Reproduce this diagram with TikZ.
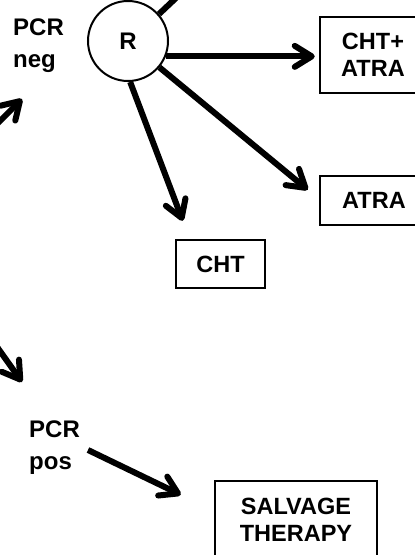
\documentclass[tikz,border=0pt]{standalone}
\usepackage{fontspec}
\setmainfont{Liberation Sans}
\usetikzlibrary{arrows.meta}
\begin{document}
\begin{tikzpicture}[x=1pt,y=-1pt,
  lbl/.style={font=\bfseries\fontsize{24}{32}\selectfont,align=left,inner sep=0pt},
  boxnode/.style={draw,line width=2.5pt,font=\bfseries\fontsize{23.5}{27}\selectfont,align=center,inner sep=0pt},
  conn/.style={line width=6pt,-{Straight Barb[length=17pt,width=21pt,round]}},
  plain/.style={line width=6pt}]
\useasboundingbox (0,0) rectangle (415,555);
\clip (0,0) rectangle (415,555);
\node[draw,circle,line width=2pt,minimum size=80pt,inner sep=0pt,font=\bfseries\fontsize{24}{28}\selectfont] (R) at (128,41) {R};
\node[lbl,anchor=west] (pneg) at (13,46) {PCR\\neg};
\node[lbl,anchor=west] (ppos) at (29,448) {PCR\\pos};
\node[boxnode,minimum width=106pt,minimum height=76pt] (ca) at (373,55) {CHT+\\ATRA};
\node[boxnode,minimum width=108pt,minimum height=49pt] (atra) at (374,200.5) {ATRA};
\node[boxnode,minimum width=89pt,minimum height=48pt] (cht) at (220.5,264) {CHT};
\node[boxnode,minimum width=162pt,minimum height=78pt] (salv) at (296,520) {SALVAGE\\THERAPY};
\coordinate (topout) at (195,-20);
\coordinate (inneg) at (-8,129);
\coordinate (inpos) at (-10,337);
\coordinate (negtip) at (22,99);
\coordinate (postip) at (22,382);
\draw[plain] (R.41) -- (topout);
\draw[conn] (R.-22) -- ([xshift=-4pt]ca.west |- R.-22);
\draw[conn] (R.-40) -- ([xshift=-11pt,yshift=-15pt]atra.north west);
\draw[conn] (R.-87) -- ([xshift=8pt,yshift=18pt]cht.north west);
\draw[conn] (inneg) -- (negtip);
\draw[conn] (inpos) -- (postip);
\draw[conn] ([xshift=59pt,yshift=-2pt]ppos.west) -- ([xshift=-33pt,yshift=-15pt]salv.north west);
\end{tikzpicture}
\end{document}
